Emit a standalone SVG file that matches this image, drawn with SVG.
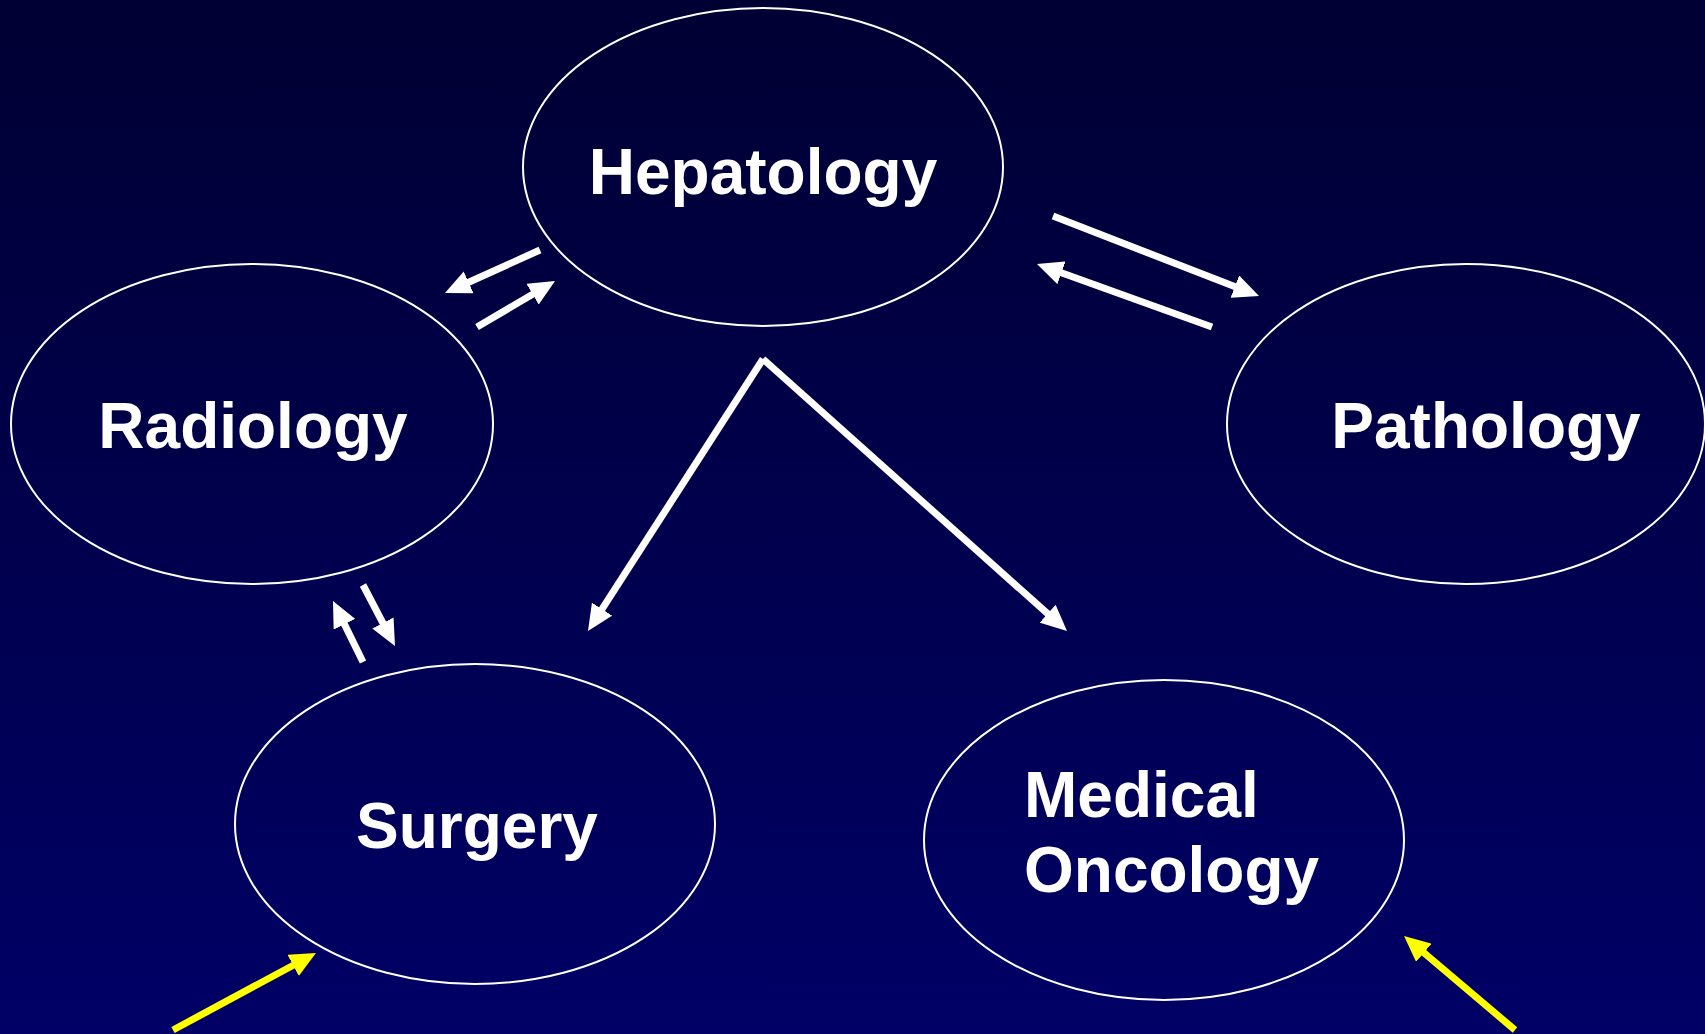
<svg xmlns="http://www.w3.org/2000/svg" width="1705" height="1034" viewBox="0 0 1705 1034">
<defs>
<linearGradient id="bg" x1="0" y1="0" x2="0" y2="1">
<stop offset="0" stop-color="#000033"/>
<stop offset="1" stop-color="#000066"/>
</linearGradient>
<marker id="hw" viewBox="0 0 26 24" refX="6" refY="12" markerWidth="26" markerHeight="24" markerUnits="userSpaceOnUse" orient="auto">
<path d="M0,0 L26,12 L0,24 z" fill="#ffffff"/>
</marker>
<marker id="hy" viewBox="0 0 26 24" refX="6" refY="12" markerWidth="26" markerHeight="24" markerUnits="userSpaceOnUse" orient="auto">
<path d="M0,0 L26,12 L0,24 z" fill="#ffff00"/>
</marker>
</defs>
<style>
.node ellipse{fill:none;stroke:#ffffff;stroke-width:2}
.node text{font-family:"Liberation Sans",Arial,sans-serif;font-weight:bold;font-size:64px;fill:#ffffff}
.w{stroke:#ffffff;stroke-width:7;fill:none;marker-end:url(#hw)}
.y{stroke:#ffff00;stroke-width:7;fill:none;marker-end:url(#hy)}
</style>
<rect x="0" y="0" width="1705" height="1034" fill="url(#bg)"/>
<g id="hepatology" class="node">
<ellipse cx="763" cy="167" rx="240" ry="159"/>
<text x="763" y="194" text-anchor="middle">Hepatology</text>
</g>
<g id="radiology" class="node">
<ellipse cx="252" cy="424" rx="241" ry="160"/>
<text x="253" y="448" text-anchor="middle">Radiology</text>
</g>
<g id="pathology" class="node">
<ellipse cx="1466" cy="424" rx="239" ry="160"/>
<text x="1486" y="448" text-anchor="middle">Pathology</text>
</g>
<g id="surgery" class="node">
<ellipse cx="475" cy="824" rx="240" ry="160"/>
<text x="477" y="848" text-anchor="middle">Surgery</text>
</g>
<g id="medical-oncology" class="node">
<ellipse cx="1164" cy="840" rx="240" ry="160"/>
<text x="1024" y="817">Medical</text>
<text x="1024" y="892">Oncology</text>
</g>
<g id="connectors">
<line class="w" x1="540" y1="250" x2="463.2" y2="284.8"/>
<line class="w" x1="477" y1="327" x2="537.8" y2="291.2"/>
<line class="w" x1="1053" y1="216" x2="1240.4" y2="288.8"/>
<line class="w" x1="1212" y1="327" x2="1055.8" y2="270.8"/>
<line class="w" x1="363" y1="662" x2="341.8" y2="618.9"/>
<line class="w" x1="363" y1="585" x2="385.7" y2="628.3"/>
<line class="w" x1="763" y1="359" x2="598.8" y2="614.2"/>
<line class="w" x1="763" y1="359" x2="1052.1" y2="617.7"/>
<line class="y" x1="173" y1="1030" x2="298.4" y2="962.5"/>
<line class="y" x1="1515" y1="1030" x2="1419.3" y2="948.9"/>
</g>
</svg>
